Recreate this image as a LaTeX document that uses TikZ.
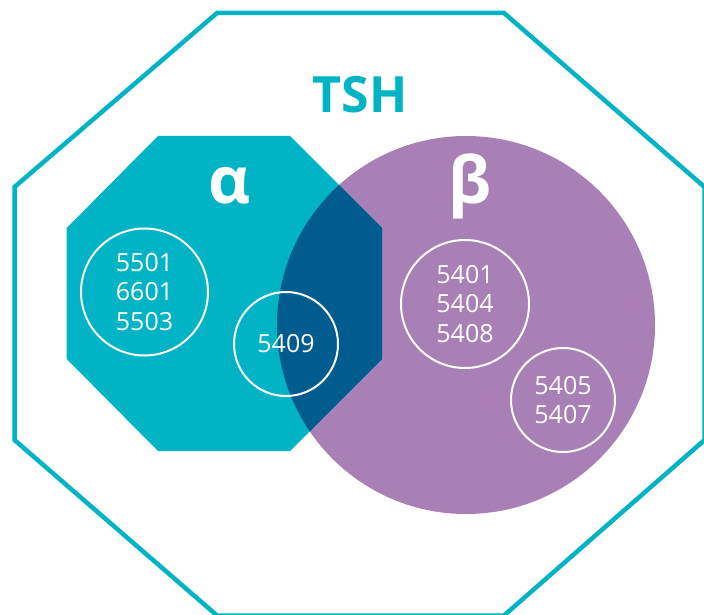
\documentclass[tikz,border=0pt]{standalone}
\usepackage{fontspec}
\setmainfont{Open Sans}
\definecolor{tshteal}{RGB}{0,180,197}
\definecolor{tshpurple}{RGB}{168,128,182}
\definecolor{tshdark}{RGB}{0,91,142}
\tikzset{
  outer/.style={draw=tshteal, line width=4.5pt, line join=miter},
  group/.style={circle, draw=white, line width=2pt, inner sep=0pt, align=center,
     text=white, font=\fontsize{25}{29.5}\selectfont},
  greek/.style={text=white, font=\bfseries\fontsize{65}{65}\selectfont, inner sep=0pt},
  title/.style={text=tshteal, font=\bfseries\fontsize{50}{50}\selectfont, inner sep=0pt}
}
\begin{document}
\begin{tikzpicture}[x=1pt,y=-1pt]
\useasboundingbox (0,0) rectangle (704,615);
\clip (0,0) rectangle (704,615);
% outer TSH octagon
\draw[outer] (217,13) -- (504,13) -- (704.5,187) -- (704.5,440) -- (504,615.5)
   -- (217,615.5) -- (14.5,440) -- (14.5,187) -- cycle;
% beta circle
\fill[tshpurple] (466,325) circle[radius=189];
% alpha octagon
\fill[tshteal] (158,136) -- (290,136) -- (382,228) -- (382,359) -- (290,451)
   -- (158,451) -- (66.7,359) -- (66.7,228) -- cycle;
% overlap
\begin{scope}
  \clip (466,325) circle[radius=189];
  \fill[tshdark] (158,136) -- (290,136) -- (382,228) -- (382,359) -- (290,451)
     -- (158,451) -- (66.7,359) -- (66.7,228) -- cycle;
\end{scope}
% labels
\node[title] (tsh) at (360,95) {TSH};
\node[greek] (alpha) at (230,186) {α};
\node[greek] (beta) at (470,186) {β};
% groups
\node[group, minimum size=127pt] (g1) at (144.5,292) {5501\\6601\\5503};
\node[group, minimum size=104pt] (g2) at (286,344) {5409};
\node[group, minimum size=128pt] (g3) at (465,304) {5401\\5404\\5408};
\node[group, minimum size=104pt] (g4) at (563,400) {5405\\5407};
\end{tikzpicture}
\end{document}
